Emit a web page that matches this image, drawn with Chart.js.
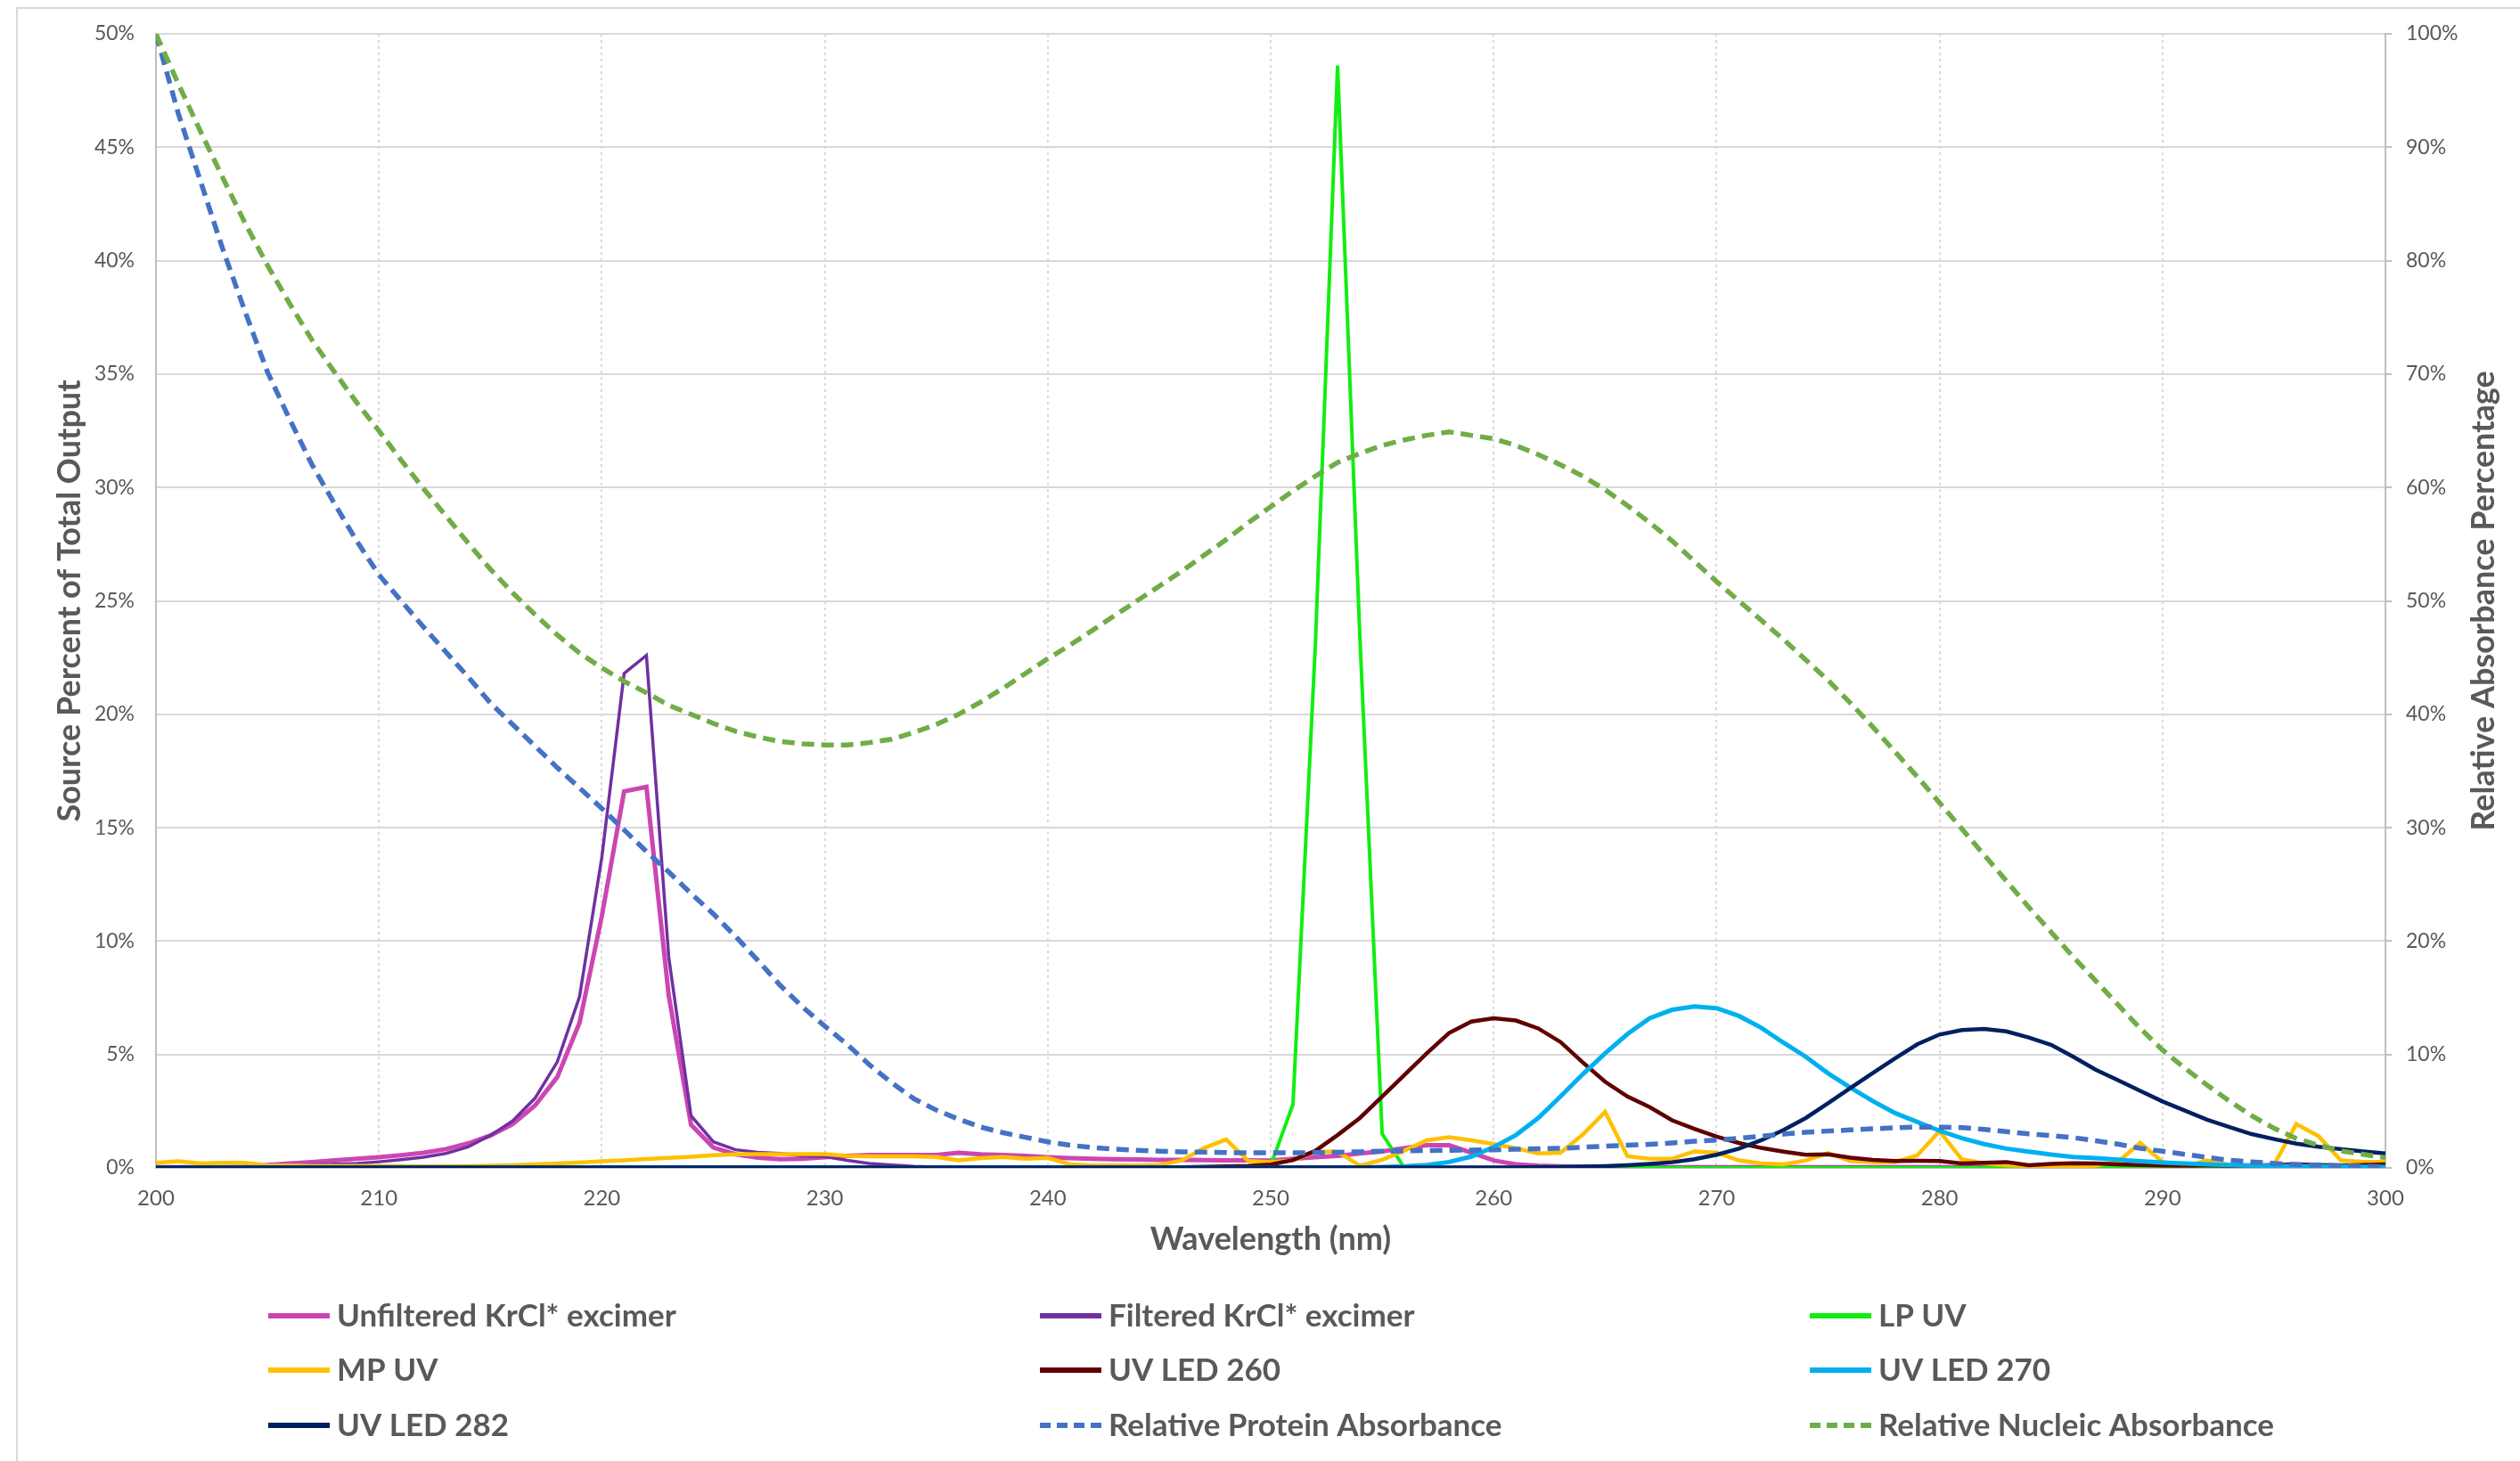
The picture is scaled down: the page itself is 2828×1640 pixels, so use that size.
<!DOCTYPE html>
<html>
<head>
<meta charset="utf-8">
<title>Source spectra vs. absorbance</title>
<script src="https://cdn.jsdelivr.net/npm/chart.js@4/dist/chart.umd.min.js"></script>
<style>
  html, body { margin: 0; padding: 0; background: #fff; }
  #chart { display: block; }
</style>
</head>
<body>
<canvas id="chart" width="2828" height="1640"></canvas>
<script>
// wavelengths (nm)
const wavelengths = [
  200, 201, 202, 203, 204, 205, 206, 207, 208, 209,
  210, 211, 212, 213, 214, 215, 216, 217, 218, 219,
  220, 221, 222, 223, 224, 225, 226, 227, 228, 229,
  230, 231, 232, 233, 234, 235, 236, 237, 238, 239,
  240, 241, 242, 243, 244, 245, 246, 247, 248, 249,
  250, 251, 252, 253, 254, 255, 256, 257, 258, 259,
  260, 261, 262, 263, 264, 265, 266, 267, 268, 269,
  270, 271, 272, 273, 274, 275, 276, 277, 278, 279,
  280, 281, 282, 283, 284, 285, 286, 287, 288, 289,
  290, 291, 292, 293, 294, 295, 296, 297, 298, 299,
  300
];

// source output, % of total (left axis)
const unfilteredKrCl = [
  0.03, 0.03, 0.03, 0.03, 0.05, 0.13, 0.2, 0.26, 0.33, 0.4,
  0.47, 0.56, 0.67, 0.83, 1.08, 1.43, 1.93, 2.75, 4.0, 6.4,
  11.1, 16.6, 16.8, 7.6, 1.9, 0.9, 0.6, 0.45, 0.38, 0.4,
  0.47, 0.53, 0.57, 0.57, 0.57, 0.57, 0.67, 0.6, 0.57, 0.53,
  0.47, 0.43, 0.4, 0.38, 0.37, 0.35, 0.35, 0.34, 0.33, 0.33,
  0.32, 0.4, 0.47, 0.53, 0.64, 0.73, 0.87, 1.0, 1.0, 0.67,
  0.33, 0.16, 0.1, 0.07, 0.05, 0.03, 0.03, 0.03, 0.03, 0.03,
  0.03, 0.03, 0.03, 0.03, 0.03, 0.03, 0.03, 0.03, 0.03, 0.03,
  0.03, 0.03, 0.03, 0.03, 0.03, 0.03, 0.03, 0.03, 0.03, 0.03,
  0.03, 0.03, 0.03, 0.03, 0.03, 0.03, 0.03, 0.03, 0.03, 0.03,
  0.03
];
const filteredKrCl = [
  0.02, 0.02, 0.02, 0.02, 0.03, 0.08, 0.1, 0.13, 0.17, 0.2,
  0.27, 0.36, 0.47, 0.64, 0.93, 1.43, 2.07, 3.07, 4.67, 7.55,
  13.7, 21.8, 22.6, 9.3, 2.3, 1.15, 0.8, 0.69, 0.64, 0.53,
  0.5, 0.33, 0.2, 0.13, 0.07, 0.04, 0.02, 0.02, 0.02, 0.02,
  0.02, 0.02, 0.02, 0.02, 0.02, 0.02, 0.02, 0.02, 0.02, 0.02,
  0.02, 0.02, 0.02, 0.02, 0.02, 0.02, 0.02, 0.02, 0.02, 0.02,
  0.02, 0.02, 0.02, 0.02, 0.02, 0.02, 0.02, 0.02, 0.02, 0.02,
  0.02, 0.02, 0.02, 0.02, 0.02, 0.02, 0.02, 0.02, 0.02, 0.02,
  0.02, 0.02, 0.02, 0.02, 0.02, 0.02, 0.02, 0.02, 0.02, 0.02,
  0.02, 0.02, 0.02, 0.02, 0.02, 0.02, 0.02, 0.02, 0.02, 0.02,
  0.02
];
const lpUV = [
  0, 0, 0, 0, 0, 0, 0, 0, 0, 0,
  0, 0, 0, 0, 0, 0, 0, 0, 0, 0,
  0, 0, 0, 0, 0, 0, 0, 0, 0, 0,
  0, 0, 0, 0, 0, 0, 0, 0, 0, 0,
  0, 0, 0, 0, 0, 0, 0, 0, 0, 0,
  0.1, 2.8, 23, 48.6, 23.4, 1.5, 0, 0, 0, 0,
  0, 0, 0, 0, 0, 0, 0, 0, 0, 0,
  0, 0, 0, 0, 0, 0, 0, 0, 0, 0,
  0, 0, 0, 0, 0, 0, 0, 0, 0, 0,
  0, 0, 0, 0, 0, 0, 0, 0, 0, 0,
  0
];
const mpUV = [
  0.23, 0.29, 0.2, 0.23, 0.23, 0.11, 0.11, 0.09, 0.09, 0.09,
  0.08, 0.08, 0.07, 0.07, 0.08, 0.1, 0.12, 0.16, 0.2, 0.24,
  0.29, 0.33, 0.39, 0.44, 0.49, 0.56, 0.6, 0.61, 0.61, 0.61,
  0.61, 0.53, 0.51, 0.51, 0.51, 0.48, 0.33, 0.43, 0.48, 0.4,
  0.44, 0.16, 0.11, 0.11, 0.11, 0.13, 0.33, 0.87, 1.25, 0.3,
  0.26, 0.33, 0.72, 0.72, 0.1, 0.36, 0.76, 1.22, 1.35, 1.22,
  1.05, 0.87, 0.64, 0.67, 1.47, 2.47, 0.51, 0.4, 0.4, 0.73,
  0.67, 0.33, 0.2, 0.16, 0.33, 0.65, 0.3, 0.26, 0.26, 0.55,
  1.62, 0.38, 0.2, 0.12, 0.08, 0.07, 0.07, 0.1, 0.27, 1.1,
  0.27, 0.07, 0.33, 0.13, 0.07, 0.13, 1.93, 1.4, 0.33, 0.27,
  0.27
];
const uvLed260 = [
  0.02, 0.02, 0.02, 0.02, 0.02, 0.02, 0.02, 0.02, 0.02, 0.02,
  0.02, 0.02, 0.02, 0.02, 0.02, 0.02, 0.02, 0.02, 0.02, 0.02,
  0.02, 0.02, 0.02, 0.02, 0.02, 0.02, 0.02, 0.02, 0.02, 0.02,
  0.02, 0.02, 0.02, 0.02, 0.02, 0.02, 0.02, 0.02, 0.02, 0.02,
  0.02, 0.02, 0.02, 0.02, 0.02, 0.02, 0.03, 0.05, 0.07, 0.09,
  0.15, 0.35, 0.75, 1.45, 2.2, 3.15, 4.1, 5.05, 5.95, 6.45,
  6.6, 6.5, 6.15, 5.55, 4.65, 3.8, 3.15, 2.68, 2.1, 1.72,
  1.38, 1.1, 0.88, 0.72, 0.58, 0.6, 0.45, 0.35, 0.3, 0.31,
  0.3, 0.2, 0.23, 0.26, 0.12, 0.18, 0.21, 0.2, 0.16, 0.13,
  0.11, 0.1, 0.11, 0.1, 0.11, 0.13, 0.16, 0.13, 0.11, 0.13,
  0.16
];
const uvLed270 = [
  0.02, 0.02, 0.02, 0.02, 0.02, 0.02, 0.02, 0.02, 0.02, 0.02,
  0.02, 0.02, 0.02, 0.02, 0.02, 0.02, 0.02, 0.02, 0.02, 0.02,
  0.02, 0.02, 0.02, 0.02, 0.02, 0.02, 0.02, 0.02, 0.02, 0.02,
  0.02, 0.02, 0.02, 0.02, 0.02, 0.02, 0.02, 0.02, 0.02, 0.02,
  0.02, 0.02, 0.02, 0.02, 0.02, 0.02, 0.02, 0.02, 0.02, 0.02,
  0.02, 0.02, 0.02, 0.02, 0.02, 0.04, 0.07, 0.13, 0.26, 0.5,
  0.92, 1.45, 2.2, 3.15, 4.13, 5.05, 5.9, 6.6, 6.97, 7.12,
  7.04, 6.7, 6.18, 5.52, 4.9, 4.17, 3.54, 2.95, 2.42, 2.03,
  1.64, 1.31, 1.05, 0.85, 0.72, 0.59, 0.48, 0.43, 0.36, 0.29,
  0.24, 0.2, 0.16, 0.13, 0.11, 0.09, 0.08, 0.07, 0.07, 0.05,
  0.04
];
const uvLed282 = [
  0.02, 0.02, 0.02, 0.02, 0.02, 0.02, 0.02, 0.02, 0.02, 0.02,
  0.02, 0.02, 0.02, 0.02, 0.02, 0.02, 0.02, 0.02, 0.02, 0.02,
  0.02, 0.02, 0.02, 0.02, 0.02, 0.02, 0.02, 0.02, 0.02, 0.02,
  0.02, 0.02, 0.02, 0.02, 0.02, 0.02, 0.02, 0.02, 0.02, 0.02,
  0.02, 0.02, 0.02, 0.02, 0.02, 0.02, 0.02, 0.02, 0.02, 0.02,
  0.02, 0.02, 0.02, 0.02, 0.02, 0.02, 0.02, 0.02, 0.02, 0.02,
  0.02, 0.02, 0.03, 0.04, 0.06, 0.08, 0.12, 0.18, 0.25, 0.38,
  0.58, 0.85, 1.22, 1.67, 2.2, 2.85, 3.52, 4.18, 4.83, 5.45,
  5.88, 6.08, 6.13, 6.02, 5.75, 5.43, 4.9, 4.33, 3.87, 3.4,
  2.93, 2.53, 2.13, 1.8, 1.49, 1.27, 1.07, 0.93, 0.83, 0.73,
  0.64
];

// relative absorbance, % (right axis)
const proteinAbs = [
  100, 93, 87, 81, 75.5, 70.2, 66, 62, 58.6, 55.3,
  52.3, 50, 47.7, 45.5, 43.3, 41, 39.1, 37.2, 35.3, 33.5,
  31.7, 29.8, 27.9, 26.1, 24.2, 22.4, 20.4, 18.3, 16.1, 14.2,
  12.5, 10.9, 9.1, 7.5, 6.1, 5.1, 4.3, 3.6, 3.1, 2.7,
  2.3, 2.0, 1.8, 1.65, 1.55, 1.47, 1.41, 1.39, 1.35, 1.33,
  1.33, 1.33, 1.35, 1.38, 1.42, 1.47, 1.5, 1.53, 1.56, 1.58,
  1.6, 1.64, 1.68, 1.73, 1.82, 1.92, 2.0, 2.08, 2.2, 2.35,
  2.45, 2.62, 2.8, 2.98, 3.15, 3.25, 3.35, 3.45, 3.55, 3.6,
  3.6, 3.55, 3.4, 3.2, 3.0, 2.85, 2.67, 2.4, 2.1, 1.73,
  1.47, 1.2, 0.93, 0.67, 0.53, 0.4, 0.3, 0.25, 0.2, 0.15,
  0.1
];
const nucleicAbs = [
  100, 95.6, 91.4, 87.3, 83.3, 79.6, 76.2, 73, 70.2, 67.5,
  65, 62.4, 59.9, 57.5, 55.1, 52.8, 50.7, 48.8, 47, 45.4,
  44.1, 42.9, 41.9, 40.8, 40, 39.2, 38.5, 38, 37.6, 37.4,
  37.3, 37.3, 37.5, 37.8, 38.4, 39.1, 40, 41.1, 42.3, 43.6,
  44.9, 46.1, 47.4, 48.7, 50, 51.3, 52.6, 54, 55.4, 56.9,
  58.3, 59.7, 61, 62.2, 63, 63.7, 64.2, 64.6, 64.9, 64.6,
  64.3, 63.7, 62.9, 62, 61, 59.8, 58.4, 56.9, 55.3, 53.5,
  51.7, 50.0, 48.3, 46.6, 44.8, 43.0, 41.0, 38.9, 36.7, 34.5,
  32.2, 29.9, 27.6, 25.3, 23, 20.8, 18.6, 16.5, 14.4, 12.3,
  10.4, 8.8, 7.3, 5.9, 4.6, 3.5, 2.6, 2.0, 1.5, 1.2,
  0.9
];

const FONT = 'Lato, "Open Sans", sans-serif';
const TEXT = '#595959';

function points(values) {
  return values.map((v, i) => ({ x: wavelengths[i], y: v }));
}

function series(label, values, color, width, axis, dashed) {
  return {
    label: label,
    data: points(values),
    borderColor: color,
    backgroundColor: color,
    borderWidth: width,
    borderDash: dashed ? [14, 8] : [],
    yAxisID: axis,
    pointRadius: 0,
    tension: 0,
    fill: false
  };
}

const datasets = [
  series('Unfiltered KrCl* excimer', unfilteredKrCl, '#CC46B2', 5, 'y', false),
  series('Filtered KrCl* excimer', filteredKrCl, '#7030A0', 3.5, 'y', false),
  series('LP UV', lpUV, '#11EE11', 4, 'y', false),
  series('MP UV', mpUV, '#FFC000', 4.5, 'y', false),
  series('UV LED 260', uvLed260, '#600000', 4.5, 'y', false),
  series('UV LED 270', uvLed270, '#00B0F0', 5, 'y', false),
  series('UV LED 282', uvLed282, '#002060', 4.5, 'y', false),
  series('Relative Protein Absorbance', proteinAbs, '#4472C4', 5.5, 'y2', true),
  series('Relative Nucleic Absorbance', nucleicAbs, '#70AD47', 5.5, 'y2', true)
];
// Excel draws later series on top
datasets.forEach((d, i) => { d.order = datasets.length - i; });

// frame, axis titles and the 3-column legend
const decorations = {
  id: 'decorations',
  beforeDraw(chart) {
    const ctx = chart.ctx;
    ctx.save();
    ctx.fillStyle = '#fff';
    ctx.fillRect(0, 0, chart.width, chart.height);
    ctx.strokeStyle = '#D9D9D9';
    ctx.lineWidth = 2;
    ctx.strokeRect(19, 9, chart.width + 20, chart.height + 20);
    ctx.restore();
  },
  afterDraw(chart) {
    const ctx = chart.ctx;
    const area = chart.chartArea;
    const midY = (area.top + area.bottom) / 2;
    ctx.save();
    ctx.fillStyle = TEXT;
    ctx.font = 'bold 36px ' + FONT;
    ctx.textAlign = 'center';
    ctx.textBaseline = 'middle';

    ctx.fillText('Wavelength (nm)', (area.left + area.right) / 2, 1391);

    ctx.save();
    ctx.translate(78, midY);
    ctx.rotate(-Math.PI / 2);
    ctx.fillText('Source Percent of Total Output', 0, 0);
    ctx.restore();

    ctx.save();
    ctx.translate(2787, midY);
    ctx.rotate(-Math.PI / 2);
    ctx.fillText('Relative Absorbance Percentage', 0, 0);
    ctx.restore();

    // legend
    const colX = [301, 1167, 2031];
    const rowY = [1477, 1538, 1600];
    ctx.font = 'bold 35px ' + FONT;
    ctx.textAlign = 'left';
    chart.data.datasets.forEach((d, i) => {
      const x = colX[i % 3];
      const y = rowY[Math.floor(i / 3)];
      ctx.save();
      ctx.strokeStyle = d.borderColor;
      ctx.lineWidth = 6;
      ctx.lineCap = 'butt';
      ctx.setLineDash(d.borderDash.length ? [12, 7] : []);
      ctx.beginPath();
      ctx.moveTo(x, y);
      ctx.lineTo(x + 69, y);
      ctx.stroke();
      ctx.restore();
      ctx.fillText(d.label, x + 77, y + 1);
    });
    ctx.restore();
  }
};

new Chart(document.getElementById('chart'), {
  type: 'line',
  data: { datasets: datasets },
  options: {
    responsive: false,
    devicePixelRatio: 1,
    animation: false,
    layout: { padding: { top: 38, left: 0, right: 0, bottom: 0 } },
    plugins: {
      legend: { display: false },
      tooltip: { enabled: false }
    },
    scales: {
      x: {
        type: 'linear',
        min: 200,
        max: 300,
        afterFit(scale) { scale.height = 1640 - 1311; },
        ticks: {
          stepSize: 10,
          padding: 20,
          color: TEXT,
          font: { family: FONT, size: 24 }
        },
        grid: { color: '#D9D9D9', lineWidth: 2, drawTicks: false },
        border: { display: true, color: '#BFBFBF', width: 2, dash: [3, 4] }
      },
      y: {
        position: 'left',
        min: 0,
        max: 50,
        afterFit(scale) { scale.width = 175; },
        ticks: {
          stepSize: 5,
          padding: 24,
          color: TEXT,
          font: { family: FONT, size: 23 },
          callback: v => v + '%'
        },
        grid: { color: '#D9D9D9', lineWidth: 2, drawTicks: false },
        border: { color: '#BFBFBF', width: 2 }
      },
      y2: {
        position: 'right',
        min: 0,
        max: 100,
        afterFit(scale) { scale.width = 2828 - 2677; },
        ticks: {
          stepSize: 10,
          padding: 16,
          color: TEXT,
          font: { family: FONT, size: 23 },
          callback: v => v + '%'
        },
        grid: { drawOnChartArea: false, drawTicks: true, tickLength: 7, color: '#BFBFBF', lineWidth: 2 },
        border: { color: '#BFBFBF', width: 2 }
      }
    }
  },
  plugins: [decorations]
});
</script>
</body>
</html>
